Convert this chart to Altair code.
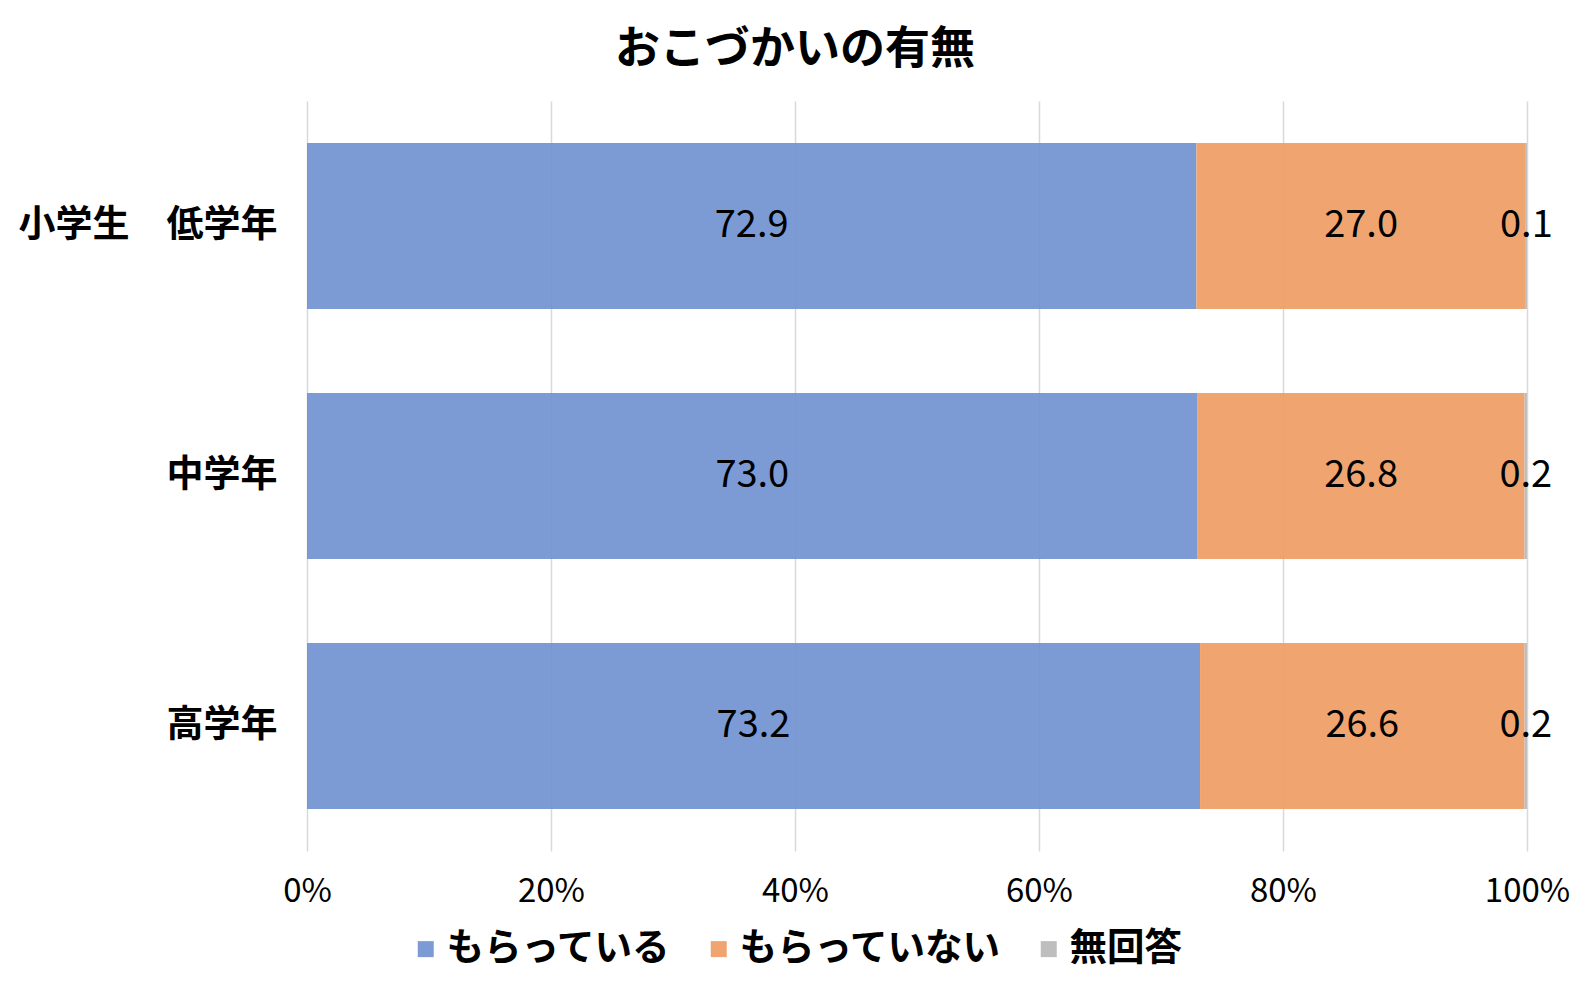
import altair as alt
import pandas as pd

# Grade groups (top to bottom) and answer categories (left to right)
grades = ["小学生　低学年", "中学年", "高学年"]
answers = ["もらっている", "もらっていない", "無回答"]

# Percentages for each answer, one value per grade group
receives = [72.9, 73.0, 73.2]
does_not_receive = [27.0, 26.8, 26.6]
no_answer = [0.1, 0.2, 0.2]

colors = ["#7193D1", "#EF9D64", "#B9B9B9"]

rows = []
for series_idx, (name, vals) in enumerate(zip(answers, [receives, does_not_receive, no_answer])):
    for grade, v in zip(grades, vals):
        rows.append({"grade": grade, "answer": name, "order": series_idx, "value": v})
df = pd.DataFrame(rows)

jp_font = "Noto Sans CJK JP"
num_font = "Noto Sans CJK JP"

base = alt.Chart(df).transform_stack(
    stack="value",
    as_=["x0", "x1"],
    groupby=["grade"],
    sort=[alt.SortField("order", order="ascending")],
    offset="normalize",
).transform_calculate(
    xmid="(datum.x0 + datum.x1) / 2"
)

x_scale = alt.Scale(domain=[0, 1], nice=False)

y_enc = alt.Y(
    "grade:N",
    sort=grades,
    title=None,
    scale=alt.Scale(paddingInner=0.336, paddingOuter=0.168),
    axis=alt.Axis(
        domain=False,
        ticks=False,
        grid=False,
        labelFont=jp_font,
        labelFontSize=37,
        labelFontWeight="bold",
        labelColor="#000000",
        labelPadding=30,
        labelLimit=400,
        labelAlign="right",
    ),
)

bars = base.mark_bar(opacity=0.92).encode(
    x=alt.X(
        "x0:Q",
        title=None,
        scale=x_scale,
        axis=alt.Axis(
            format="%",
            values=[0, 0.2, 0.4, 0.6, 0.8, 1.0],
            domain=False,
            ticks=False,
            grid=True,
            gridColor="#D9D9D9",
            gridWidth=1.5,
            labelFont=num_font,
            labelFontSize=33,
            labelColor="#000000",
            labelPadding=24,
            labelFlush=False,
        ),
    ),
    x2="x1:Q",
    y=y_enc,
    color=alt.Color(
        "answer:N",
        sort=answers,
        scale=alt.Scale(domain=answers, range=colors),
        legend=alt.Legend(
            title=None,
            orient="none",
            direction="horizontal",
            legendX=100,
            legendY=829,
            symbolType="square",
            symbolSize=256,
            symbolStrokeWidth=0,
            labelFont=jp_font,
            labelFontSize=37.5,
            labelFontWeight="bold",
            labelColor="#000000",
            labelOffset=2,
            columnPadding=28,
            labelLimit=400,
        ),
    ),
    order=alt.Order("order:Q"),
)

# Value labels centred on each stacked segment
labels = base.mark_text(
    font=num_font,
    fontSize=38,
    color="#000000",
).encode(
    x=alt.X("xmid:Q"),
    y=alt.Y("grade:N", sort=grades),
    text=alt.Text("value:Q", format=".1f"),
)

chart = (
    alt.layer(bars, labels)
    .properties(
        width=1220,
        height=750,
        view=alt.ViewBackground(stroke="transparent", strokeWidth=0),
        title=alt.TitleParams(
            "おこづかいの有無",
            font=jp_font,
            fontSize=45,
            fontWeight="bold",
            color="#000000",
            anchor="middle",
            dx=-122,
            offset=28,
        ),
        autosize=alt.AutoSizeParams(type="none"),
        padding={"left": 307, "top": 101, "right": 62, "bottom": 135},
    )
    .configure_view(stroke="transparent", strokeWidth=0)
    .configure(background="#FFFFFF", style={"cell": {"stroke": "transparent", "strokeWidth": 0}})
)

chart.save("out.html", embed_options={"renderer": "svg", "actions": False})
